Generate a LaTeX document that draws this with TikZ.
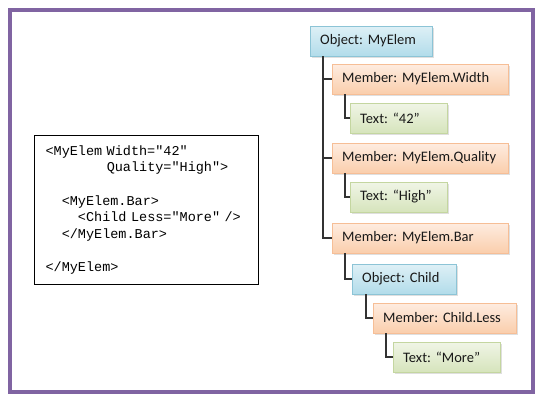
\documentclass[tikz,border=0pt]{standalone}
\usepackage{fontspec}
\setmainfont{Carlito}
\setmonofont{Liberation Mono}[WordSpace={1,0,0}]
\usetikzlibrary{shadows}
\frenchspacing
\definecolor{frame}{RGB}{128,100,162}
\definecolor{objline}{RGB}{140,196,214}
\definecolor{objtop}{RGB}{222,240,246}
\definecolor{objbot}{RGB}{178,220,234}
\definecolor{memline}{RGB}{246,190,150}
\definecolor{memtop}{RGB}{254,236,224}
\definecolor{membot}{RGB}{250,206,172}
\definecolor{txtline}{RGB}{196,214,160}
\definecolor{txttop}{RGB}{240,245,230}
\definecolor{txtbot}{RGB}{214,228,188}
\begin{document}
\begin{tikzpicture}[x=1pt, y=-1pt,
    box/.style={anchor=west, draw, align=left, inner xsep=10pt, inner ysep=0pt,
      minimum height=30pt, text=black!90, font=\fontsize{14.5}{17}\selectfont,
      drop shadow={shadow xshift=1.5pt, shadow yshift=-1.5pt, opacity=0.25}},
    obj/.style={box, draw=objline, top color=objtop, bottom color=objbot},
    mem/.style={box, draw=memline, top color=memtop, bottom color=membot},
    txt/.style={box, draw=txtline, top color=txttop, bottom color=txtbot},
    link/.style={draw=black!80, line width=1.1pt}]
    \fill[white] (0,0) rectangle (556,405);
    \useasboundingbox (0,0) rectangle (556,405);
    \draw[frame, line width=3.5pt] (10,10) rectangle (533,392);
    \node[draw, line width=1.1pt, anchor=north west, inner xsep=11pt, inner ysep=0pt,
      text width=202pt, minimum height=149pt, align=left,
      font=\ttfamily\fontsize{13.5}{16.7}\selectfont] (code) at (34,135) {%
      <MyElem~Width="42"\\
      \phantom{<MyElem~}Quality="High">\\
      ~\\
      \phantom{<M}<MyElem.Bar>\\
      \phantom{<MyE}<Child~Less="More"~/>\\
      \phantom{<M}</MyElem.Bar>\\
      ~\\
      </MyElem>};
    \node[obj, text width=102pt] (oElem) at (310,41) {Object:~MyElem};
    \node[mem, text width=156pt] (mWidth) at (332,79) {Member:~MyElem.Width};
    \node[txt, text width=77pt] (t42) at (350,118) {Text:~“42”};
    \node[mem, text width=156pt] (mQual) at (332,158) {Member:~MyElem.Quality};
    \node[txt, text width=77pt] (tHigh) at (350,197) {Text:~“High”};
    \node[mem, text width=156pt] (mBar) at (332,238) {Member:~MyElem.Bar};
    \node[obj, text width=84pt] (oChild) at (352,279) {Object:~Child};
    \node[mem, text width=123pt] (mLess) at (373,318) {Member:~Child.Less};
    \node[txt, text width=87pt] (tMore) at (393,357) {Text:~“More”};
    \draw[link] ([xshift=13pt]oElem.south west) |- (mWidth.west);
    \draw[link] ([xshift=13pt]oElem.south west) |- (mQual.west);
    \draw[link] ([xshift=13pt]oElem.south west) |- (mBar.west);
    \draw[link] ([xshift=13pt]mWidth.south west) |- (t42.west);
    \draw[link] ([xshift=13pt]mQual.south west) |- (tHigh.west);
    \draw[link] ([xshift=13pt]mBar.south west) |- (oChild.west);
    \draw[link] ([xshift=14pt]oChild.south west) |- (mLess.west);
    \draw[link] ([xshift=13pt]mLess.south west) |- (tMore.west);
\end{tikzpicture}
\end{document}
